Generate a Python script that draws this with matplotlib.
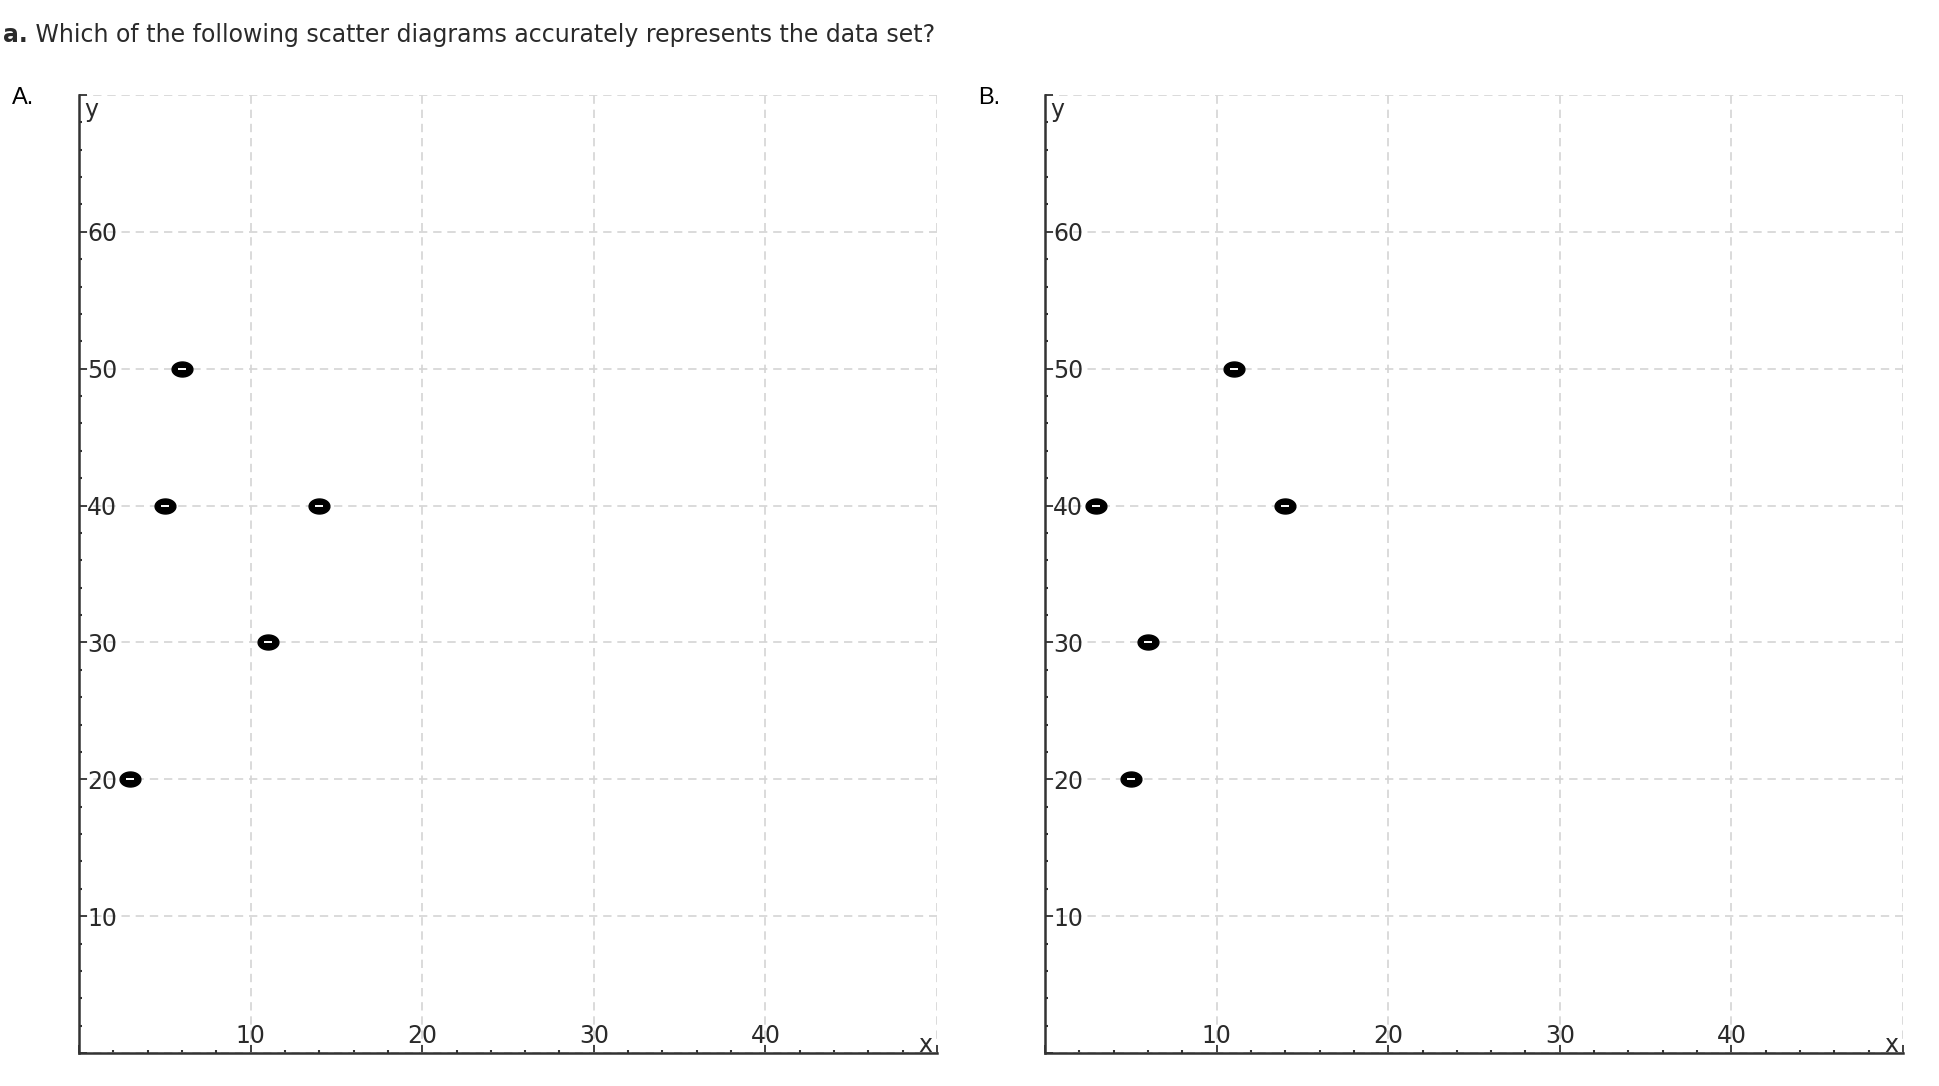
import numpy as np
import matplotlib
matplotlib.use("Agg")
import matplotlib.pyplot as plt
from matplotlib.text import Annotation

# data
xa = [3, 5, 6, 11, 14]
ya = [20, 40, 50, 30, 40]
xb = [3, 11, 14, 6, 5]
yb = [40, 50, 40, 30, 20]

xticks = [0, 10, 20, 30, 40, 50]
xticklabels = ["", "10", "20", "30", "40", ""]
yticks = [0, 10, 20, 30, 40, 50, 60, 70]
yticklabels = ["", "10", "20", "30", "40", "50", "60", ""]

title_bold = "a."
title_rest = " Which of the following scatter diagrams accurately represents the data set?"

W, H = 1940, 1086
fig = plt.figure(figsize=(W / 100, H / 100), dpi=100)

# ellipse-shaped marker
t = np.linspace(0, 2 * np.pi, 40)
ellipse = np.column_stack([np.cos(t), 0.72 * np.sin(t)])

axcol = "#333333"
txtcol = "#2a2a2a"
fs = 17


def draw_panel(left, xs, ys, letter):
    ax = fig.add_axes([left / W, 1 - 1053 / H, 858 / W, 958 / H])
    ax.set_xlim(0, 50)
    ax.set_ylim(0, 70)
    for s in ["top", "right"]:
        ax.spines[s].set_visible(False)
    for s in ["left", "bottom"]:
        ax.spines[s].set_color(axcol)
        ax.spines[s].set_linewidth(1.8)
    ax.set_xticks(xticks)
    ax.set_xticklabels(xticklabels)
    ax.set_yticks(yticks)
    ax.set_yticklabels(yticklabels)
    ax.set_xticks(np.arange(0, 51, 2), minor=True)
    ax.set_yticks(np.arange(0, 71, 2), minor=True)
    ax.tick_params(which="major", direction="in", length=6, width=1.3,
                   color=axcol, labelsize=fs, labelcolor=txtcol)
    ax.tick_params(which="minor", direction="in", length=2.2, width=1.5, color=axcol)
    ax.tick_params(axis="y", which="major", pad=-6)
    ax.tick_params(axis="x", which="major", pad=-21)
    for lbl in ax.get_yticklabels():
        lbl.set_horizontalalignment("left")
    ax.grid(True, which="major", color="#d4d4d4", linestyle=(0, (5, 3.5)), linewidth=1.2)
    ax.set_axisbelow(True)
    ax.text(0.006, 0.997, "y", transform=ax.transAxes, fontsize=fs, color=txtcol,
            ha="left", va="top")
    ax.text(0.994, -0.004, "x", transform=ax.transAxes, fontsize=fs, color=txtcol,
            ha="right", va="bottom")
    ax.plot(xs, ys, linestyle="none", marker=ellipse, markersize=15,
            color="black", zorder=5, clip_on=False)
    ax.plot(xs, ys, linestyle="none", marker="_", markersize=5.5, mew=1.4,
            color="white", zorder=6, clip_on=False)
    fig.text((left - 67) / W, 1 - 104 / H, letter, fontsize=17,
             family="Liberation Sans", va="baseline", ha="left")
    return ax


draw_panel(79, xa, ya, "A.")
draw_panel(1045, xb, yb, "B.")

t1 = fig.text(3 / W, 1 - 47 / H, title_bold, fontsize=fs, fontweight="bold",
              color=txtcol, va="bottom", ha="left")
fig.add_artist(Annotation(title_rest, xy=(1, 0), xycoords=t1, va="bottom", ha="left",
                          fontsize=fs, color=txtcol))

fig.savefig("out.png", dpi=100)
